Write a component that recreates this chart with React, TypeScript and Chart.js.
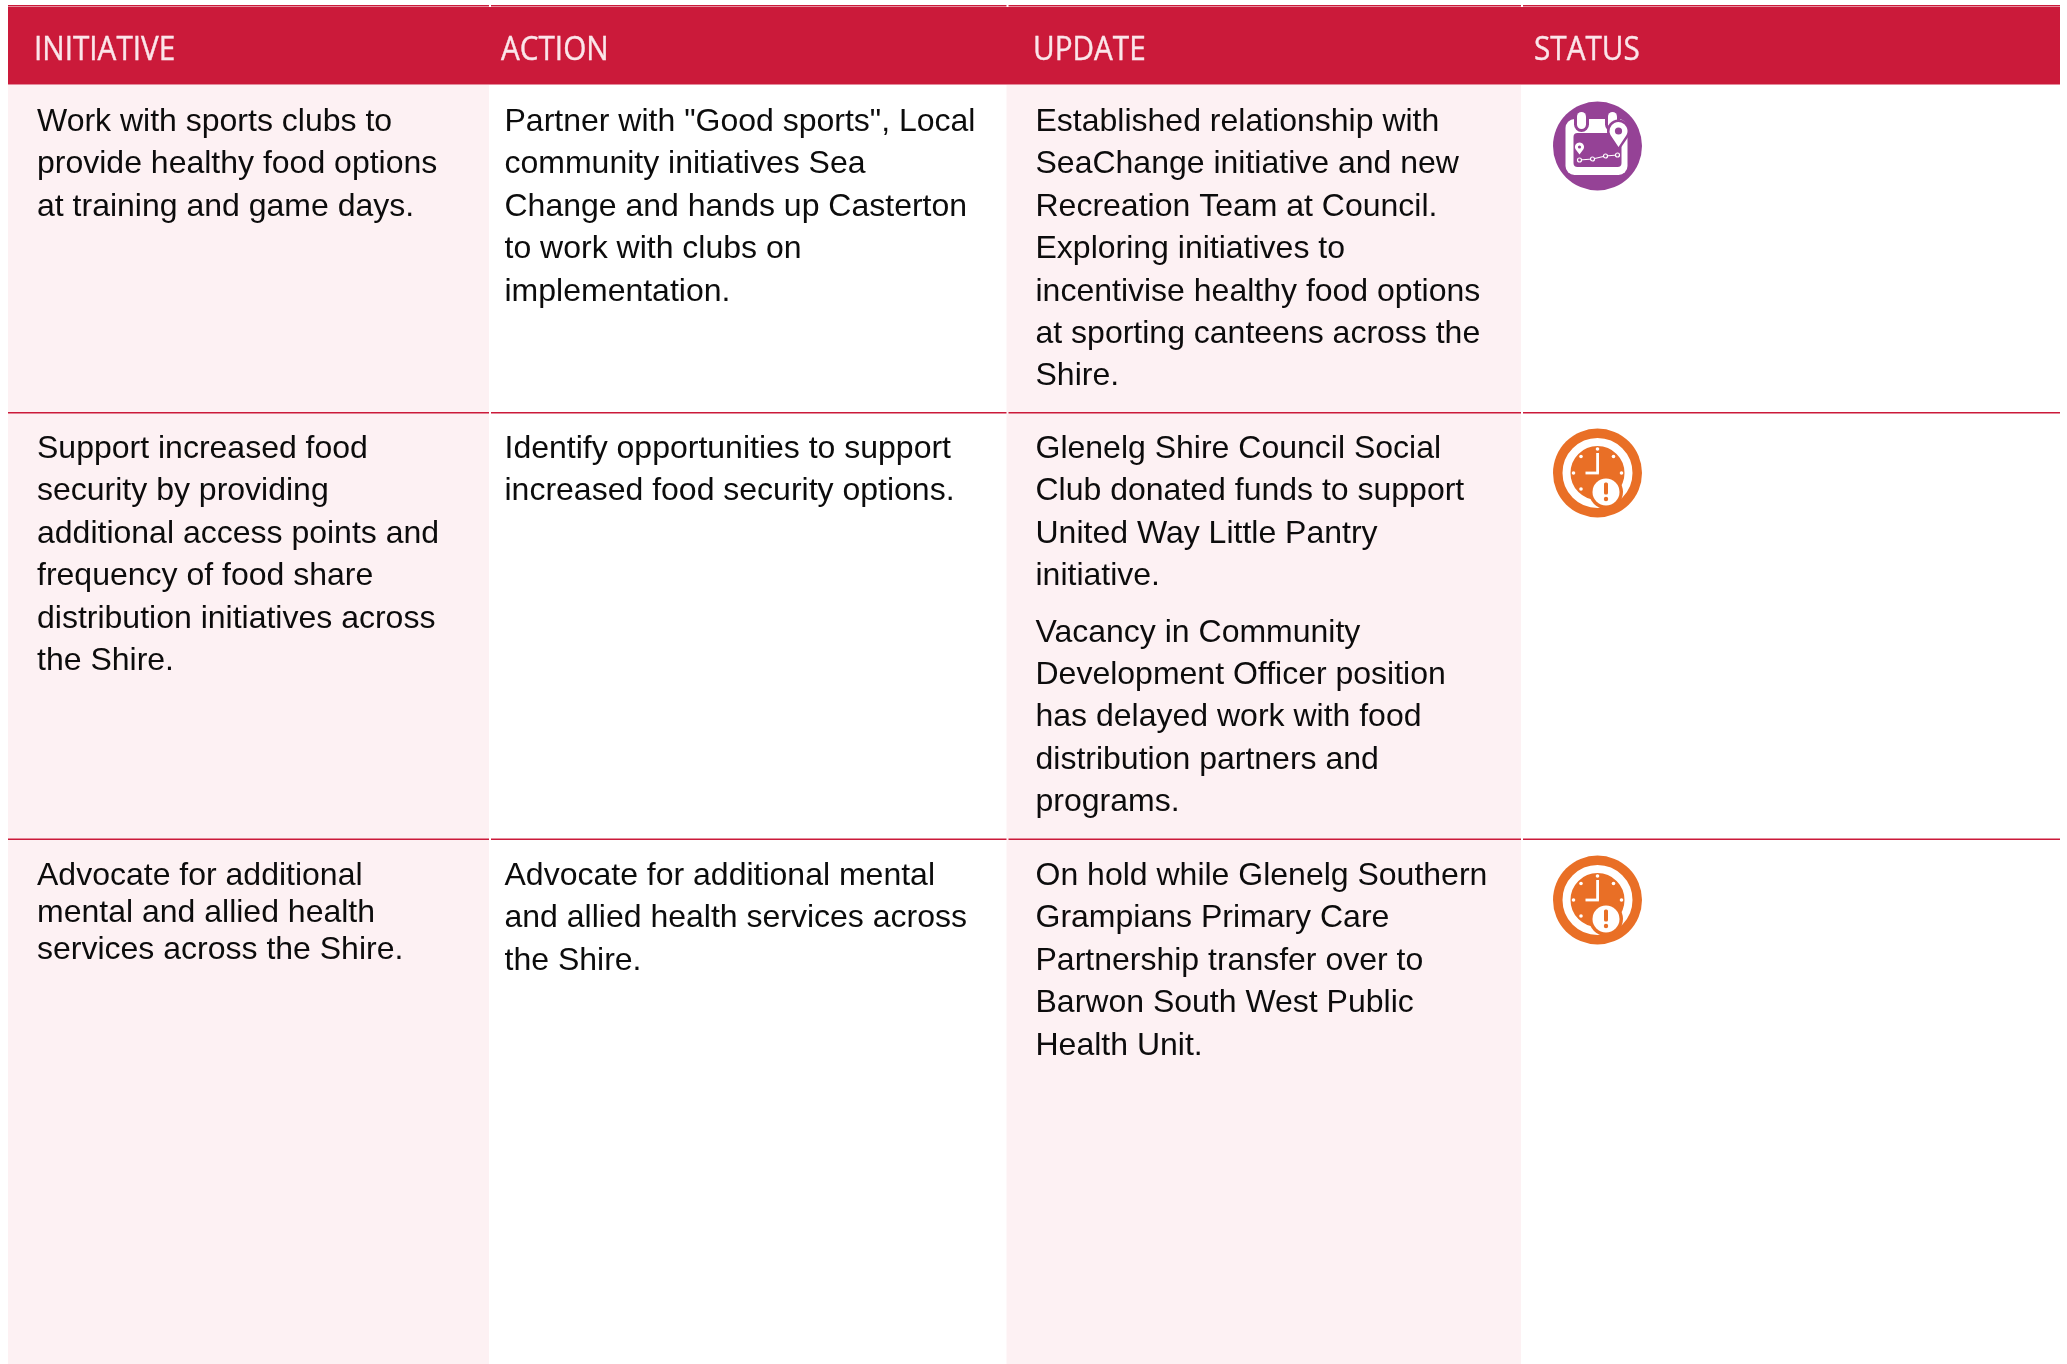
import React, { useEffect, useRef } from "react";
import { Chart, registerables } from "chart.js";

Chart.register(...registerables);

const WIDTH = 2067;
const HEIGHT = 1364;

const headers = ["INITIATIVE", "ACTION", "UPDATE", "STATUS"];

const row1 = [
  [["Work with sports clubs to", "provide healthy food options", "at training and game days."]],
  [["Partner with \"Good sports\", Local", "community initiatives Sea", "Change and hands up Casterton", "to work with clubs on", "implementation."]],
  [["Established relationship with", "SeaChange initiative and new", "Recreation Team at Council.", "Exploring initiatives to", "incentivise healthy food options", "at sporting canteens across the", "Shire."]],
];
const row2 = [
  [["Support increased food", "security by providing", "additional access points and", "frequency of food share", "distribution initiatives across", "the Shire."]],
  [["Identify opportunities to support", "increased food security options."]],
  [
    ["Glenelg Shire Council Social", "Club donated funds to support", "United Way Little Pantry", "initiative."],
    ["Vacancy in Community", "Development Officer position", "has delayed work with food", "distribution partners and", "programs."],
  ],
];
const row3 = [
  [["Advocate for additional", "mental and allied health", "services across the Shire."]],
  [["Advocate for additional mental", "and allied health services across", "the Shire."]],
  [["On hold while Glenelg Southern", "Grampians Primary Care", "Partnership transfer over to", "Barwon South West Public", "Health Unit."]],
];
const rows = [row1, row2, row3];
const statuses = ["planning", "delayed", "delayed"];

const columnEdges = [8, 489, 1006.5, 1521, 2060];
const rowEdges = [84, 412, 838.5, 1364];
const textX = [37, 504.5, 1035.5];
const headerX = [34, 501, 1033, 1534];
const statusX = 1597.5;
const statusY = [146, 473, 900];
const firstBaselineOffset = [47, 46, 46.5];
const LINE = 42.4;
const TIGHT_LINE = 36.8;

const CRIMSON = "#CB1A3A";
const PINK = "#FDF1F3";
const PURPLE = "#954296";
const ORANGE = "#E96F26";

function drawPlanning(ctx: CanvasRenderingContext2D, cx: number, cy: number) {
  ctx.save();
  ctx.translate(cx, cy);
  ctx.fillStyle = "#fff";
  ctx.beginPath();
  ctx.roundRect(-32, -27, 62, 56, 9);
  ctx.fill();
  ctx.fillStyle = PURPLE;
  ctx.beginPath();
  ctx.roundRect(-24, -13, 48, 34, 4);
  ctx.fill();
  for (const x of [-16, 15]) {
    ctx.fillStyle = PURPLE;
    ctx.beginPath();
    ctx.roundRect(x - 7.5, -37, 15, 23, 7.5);
    ctx.fill();
    ctx.fillStyle = "#fff";
    ctx.beginPath();
    ctx.roundRect(x - 4.5, -34, 9, 17, 4.5);
    ctx.fill();
  }
  const pin = (x: number, y: number, r: number, tip: number, hole: number) => {
    ctx.beginPath();
    ctx.arc(x, y, r, Math.PI * 0.85, Math.PI * 0.15);
    ctx.lineTo(x, y + tip);
    ctx.closePath();
    ctx.fill();
    ctx.save();
    ctx.fillStyle = PURPLE;
    ctx.beginPath();
    ctx.arc(x, y, hole, 0, Math.PI * 2);
    ctx.fill();
    ctx.restore();
  };
  ctx.fillStyle = PURPLE;
  pin(21, -15, 11.5, 20, 0);
  ctx.fillStyle = "#fff";
  pin(21, -15, 9, 16, 3.6);
  pin(-18, 1, 4.6, 7.5, 1.6);
  const trail = [[-18, 14], [-5, 13], [8, 10], [20, 9]];
  ctx.strokeStyle = "#fff";
  ctx.lineWidth = 1.2;
  ctx.beginPath();
  trail.forEach(([x, y], i) => (i ? ctx.lineTo(x, y) : ctx.moveTo(x, y)));
  ctx.stroke();
  for (const [x, y] of trail) {
    ctx.fillStyle = PURPLE;
    ctx.beginPath();
    ctx.arc(x, y, 2, 0, Math.PI * 2);
    ctx.fill();
    ctx.stroke();
  }
  ctx.restore();
}

function drawDelayed(ctx: CanvasRenderingContext2D, cx: number, cy: number) {
  ctx.save();
  ctx.translate(cx, cy);
  ctx.strokeStyle = "#fff";
  ctx.lineWidth = 8;
  ctx.beginPath();
  ctx.arc(0, 0, 31, 0, Math.PI * 2);
  ctx.stroke();
  ctx.fillStyle = "#fff";
  const dots = [[0, -24], [24, 0], [-24, 0], [-16.5, -16.5], [16, -16.5], [-16.5, 16]];
  for (const [x, y] of dots) {
    ctx.beginPath();
    ctx.arc(x, y, 1.8, 0, Math.PI * 2);
    ctx.fill();
  }
  ctx.fillRect(-1.3, -20, 2.8, 20);
  ctx.fillRect(-12, -1.4, 13.4, 2.8);
  ctx.fillStyle = ORANGE;
  ctx.beginPath();
  ctx.arc(8.5, 19, 17, 0, Math.PI * 2);
  ctx.fill();
  ctx.fillStyle = "#fff";
  ctx.beginPath();
  ctx.arc(8.5, 19, 13.5, 0, Math.PI * 2);
  ctx.fill();
  ctx.fillStyle = ORANGE;
  ctx.beginPath();
  ctx.roundRect(6.5, 9.5, 4, 12, 1.5);
  ctx.fill();
  ctx.beginPath();
  ctx.arc(8.5, 26, 2.2, 0, Math.PI * 2);
  ctx.fill();
  ctx.restore();
}

const tablePlugin = {
  id: "table",
  beforeDatasetsDraw(chart: any) {
    const { ctx, scales } = chart;
    const px = (v: number) => scales.x.getPixelForValue(v);
    const py = (v: number) => scales.y.getPixelForValue(v);
    ctx.save();
    ctx.fillStyle = "#fff";
    ctx.fillRect(0, 0, WIDTH, HEIGHT);

    // top rule and header band
    ctx.fillStyle = CRIMSON;
    for (let c = 0; c < 4; c++) {
      const from = columnEdges[c] + (c ? 2 : 0);
      ctx.fillRect(px(from), py(5), px(columnEdges[c + 1]) - px(from), 1.5);
    }
    ctx.fillRect(px(8), py(7), px(2060) - px(8), py(84) - py(7));
    ctx.fillStyle = "#E58A9C";
    ctx.fillRect(px(8), py(84), px(2060) - px(8), 1);

    // alternating column shading
    ctx.fillStyle = PINK;
    for (const c of [0, 2]) {
      ctx.fillRect(px(columnEdges[c]), py(85), px(columnEdges[c + 1]) - px(columnEdges[c]), py(HEIGHT) - py(85));
    }

    // row rules
    ctx.fillStyle = CRIMSON;
    for (const y of rowEdges.slice(1, 3)) {
      for (let c = 0; c < 4; c++) {
        const from = columnEdges[c] + (c ? 2 : 0);
        ctx.fillRect(px(from), py(y), px(columnEdges[c + 1]) - px(from), 1.5);
      }
    }

    // header labels
    ctx.textBaseline = "alphabetic";
    ctx.textAlign = "left";
    ctx.fillStyle = "#FBE6EA";
    ctx.strokeStyle = "#FBE6EA";
    ctx.lineWidth = 0.4;
    ctx.font = '33px "Open Sans"';
    headers.forEach((h, i) => {
      ctx.save();
      ctx.translate(px(headerX[i]), py(59.5));
      ctx.scale(0.9, 1);
      ctx.fillText(h, 0, 0);
      ctx.strokeText(h, 0, 0);
      ctx.restore();
    });

    // body text
    ctx.fillStyle = "#0c0c0c";
    ctx.font = '32px "Liberation Sans"';
    rows.forEach((row, r) => {
      row.forEach((cell, c) => {
        const lineH = r === 2 && c === 0 ? TIGHT_LINE : LINE;
        let y = rowEdges[r] + firstBaselineOffset[r];
        cell.forEach((para) => {
          para.forEach((line) => {
            ctx.fillText(line, px(textX[c]), py(y));
            y += lineH;
          });
          y += 14;
        });
      });
    });
    ctx.restore();
  },
  afterDatasetsDraw(chart: any) {
    const { ctx } = chart;
    const els = chart.getDatasetMeta(0).data;
    els.forEach((el: any, i: number) => {
      if (statuses[i] === "planning") drawPlanning(ctx, el.x, el.y);
      else drawDelayed(ctx, el.x, el.y);
    });
  },
};

export default function App() {
  const ref = useRef<HTMLCanvasElement>(null);
  useEffect(() => {
    if (!ref.current) return;
    const chart = new Chart(ref.current, {
      type: "scatter",
      data: {
        datasets: [
          {
            data: statusY.map((y) => ({ x: statusX, y })),
            pointRadius: 44.5,
            pointBorderWidth: 0,
            pointBackgroundColor: statuses.map((s) => (s === "planning" ? PURPLE : ORANGE)),
          },
        ],
      },
      options: {
        animation: false,
        responsive: false,
        devicePixelRatio: 1,
        layout: { padding: 0, autoPadding: false },
        plugins: { legend: { display: false }, tooltip: { enabled: false } },
        scales: {
          x: { type: "linear", min: 0, max: WIDTH, display: false },
          y: { type: "linear", min: 0, max: HEIGHT, reverse: true, display: false },
        },
      },
      plugins: [tablePlugin],
    } as any);
    return () => chart.destroy();
  }, []);
  return (
    <div style={{ position: "fixed", left: 0, top: 0, width: WIDTH, height: HEIGHT }}>
      <canvas ref={ref} width={WIDTH} height={HEIGHT} style={{ display: "block" }} />
    </div>
  );
}
